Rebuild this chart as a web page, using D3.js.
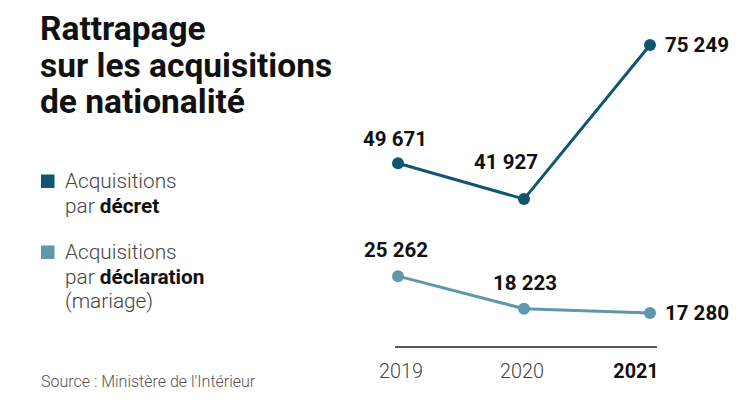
<!DOCTYPE html>
<html>
<head>
<meta charset="utf-8">
<script src="https://cdn.jsdelivr.net/npm/d3@7"></script>
<style>
  body { margin: 0; background: #fff; font-family: Roboto, "Noto Sans", sans-serif; }
  svg { display: block; }
</style>
</head>
<body>
<div id="chart"></div>
<script>
// -- DATA -- //
const years = ["2019", "2020", "2021"];
const decret = [49671, 41927, 75249];
const declaration = [25262, 18223, 17280];
const titleLines = ["Rattrapage", "sur les acquisitions", "de nationalité"];

const width = 753;
const height = 407;

const svg = d3.select("#chart")
  .append("svg")
  .attr("width", width)
  .attr("height", height);

// scales
const x = d3.scalePoint().domain(years).range([398, 650]);
const y = d3.scaleLinear().domain([0, 80000]).range([393, 23]);

const fmt = (v) => d3.format(",")(v).replace(",", " ");

// title
svg.append("text")
  .attr("x", 40)
  .attr("y", 40)
  .style("font-size", "33.5px")
  .style("font-weight", "700")
  .style("fill", "#111")
  .selectAll("tspan")
  .data(titleLines)
  .join("tspan")
  .attr("x", 40)
  .attr("dy", (d, i) => (i === 0 ? 0 : 36.5))
  .text((d) => d);

// legend
const legend = [
  { color: "#0f5670", y: 181, lines: [["Acquisitions"], ["par ", "décret"]] },
  { color: "#5f98ab", y: 252, lines: [["Acquisitions"], ["par ", "déclaration"], ["(mariage)"]] },
];

legend.forEach((item) => {
  svg.append("rect")
    .attr("x", 41)
    .attr("y", item.y - 6.5)
    .attr("width", 13.5)
    .attr("height", 13.5)
    .attr("fill", item.color);
  item.lines.forEach((parts, i) => {
    const t = svg.append("text")
      .attr("x", 65)
      .attr("y", item.y + 7 + i * 24.5)
      .style("font-size", "20.8px")
      .style("font-weight", "300")
      .style("fill", "#444");
    parts.forEach((p, j) => {
      t.append("tspan")
        .style("font-weight", j === 1 ? "700" : "300")
        .style("fill", j === 1 ? "#111" : "#444")
        .text(p);
    });
  });
});

// axis baseline
svg.append("line")
  .attr("x1", x("2019") - 3)
  .attr("x2", x("2021") + 7)
  .attr("y1", 347)
  .attr("y2", 347)
  .attr("stroke", "#222")
  .attr("stroke-width", 1.5);

// year labels
const yearShift = [3, -2, -14];
svg.selectAll(".year")
  .data(years)
  .join("text")
  .attr("class", "year")
  .attr("x", (d, i) => x(d) + yearShift[i])
  .attr("y", 378)
  .attr("text-anchor", "middle")
  .style("font-size", "19.8px")
  .style("font-weight", (d, i) => (i === years.length - 1 ? "700" : "300"))
  .style("fill", (d, i) => (i === years.length - 1 ? "#111" : "#444"))
  .text((d) => d);

// series
const series = [
  { values: decret, color: "#0f5670", offsets: [[-3, -24, "middle"], [-18, -37, "middle"], [15, 0, "start"]] },
  { values: declaration, color: "#5f98ab", offsets: [[-2, -26, "middle"], [1, -26, "middle"], [15, 0, "start"]] },
];

const line = d3.line()
  .x((d, i) => x(years[i]))
  .y((d) => y(d));

series.forEach((s) => {
  svg.append("path")
    .datum(s.values)
    .attr("d", line)
    .attr("fill", "none")
    .attr("stroke", s.color)
    .attr("stroke-width", 3);

  svg.selectAll(null)
    .data(s.values)
    .join("circle")
    .attr("cx", (d, i) => x(years[i]))
    .attr("cy", (d) => y(d))
    .attr("r", 6)
    .attr("fill", s.color);

  svg.selectAll(null)
    .data(s.values)
    .join("text")
    .attr("x", (d, i) => x(years[i]) + s.offsets[i][0])
    .attr("y", (d, i) => y(d) + s.offsets[i][1])
    .attr("dy", "0.35em")
    .attr("text-anchor", (d, i) => s.offsets[i][2])
    .style("font-size", "20.5px")
    .style("font-weight", "700")
    .style("fill", "#111")
    .text((d) => fmt(d));
});

// source
svg.append("text")
  .attr("x", 41)
  .attr("y", 387)
  .style("font-size", "16px")
  .style("font-weight", "300")
  .style("fill", "#555")
  .text("Source : Ministère de l'Intérieur");
</script>
</body>
</html>
